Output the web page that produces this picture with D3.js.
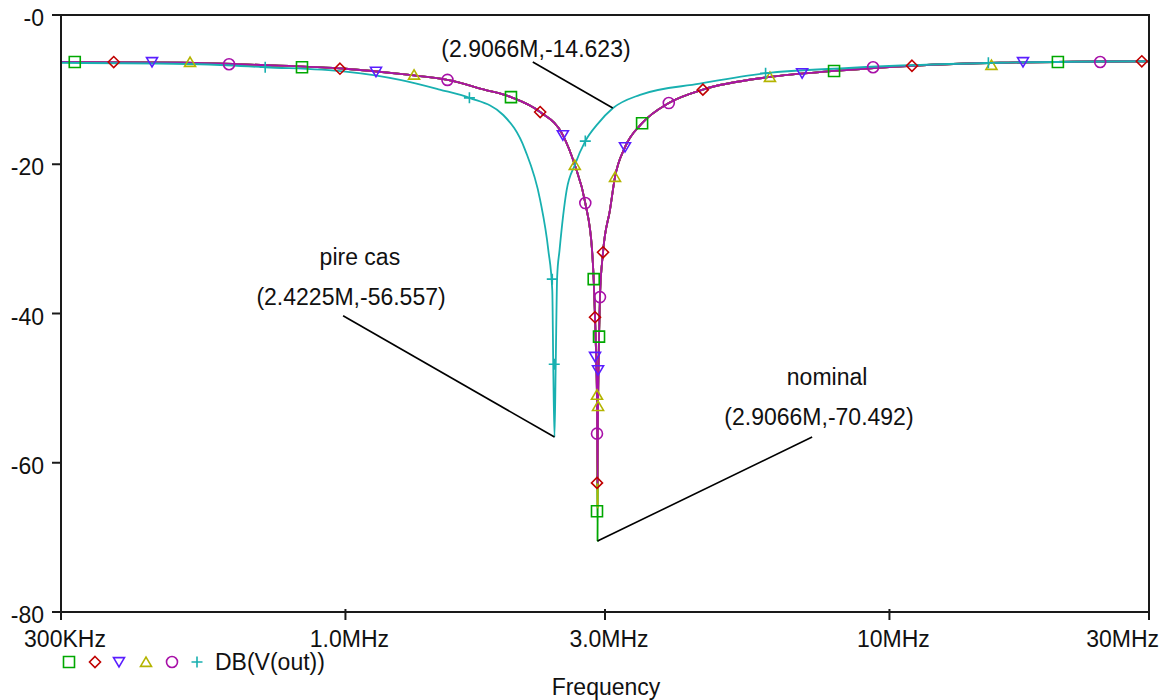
<!DOCTYPE html>
<html>
<head>
<meta charset="utf-8">
<script src="https://cdn.jsdelivr.net/npm/d3@7"></script>
<style>
  body { margin: 0; background: #fff; }
  text { font-family: "Liberation Sans", Arial, sans-serif; fill: #111; }
</style>
</head>
<body>
<script>
// axis ticks (frequency in MHz, level in dB)
const xTicks = [0.3, 1, 3, 10, 30];
const xTickLabels = ["300KHz", "1.0MHz", "3.0MHz", "10MHz", "30MHz"];
const yTicks = [0, -20, -40, -60, -80];
const yTickLabels = ["-0", "-20", "-40", "-60", "-80"];

// nominal response: left flank down to the notch, then right flank
const nominalLeft = [
  [0.3, -6.3], [0.5, -6.4], [0.7, -6.7], [1.0, -7.2], [1.3, -8.0], [1.54, -8.7],
  [1.8, -10.0], [2.015, -11.0], [2.28, -13.0], [2.51, -16.1], [2.64, -20.1],
  [2.76, -25.2], [2.84, -31.5], [2.86, -35.5], [2.876, -40.5], [2.89, -45.8], [2.90, -51.6]
];
const nominalRight = [
  [2.913, -52.3], [2.918, -47.6], [2.925, -43.1], [2.937, -37.7], [2.975, -31.8],
  [3.064, -26.1], [3.13, -21.7], [3.265, -17.7], [3.51, -14.5], [3.93, -11.8],
  [4.54, -10.0], [6.03, -8.3], [7.91, -7.5], [11.0, -6.8], [16.0, -6.4], [30.0, -6.2]
];
// notch depth reached by each of the five nominal-like traces
const notchFreq = 2.9066;
const notchDepth = [-70.492, -63.0, -62.0, -66.0, -62.7];

// worst case ("pire cas") trace
const pireCas = [
  [0.3, -6.4], [0.54, -6.6], [0.712, -7.0], [1.0, -7.6], [1.26, -8.7], [1.49, -10.0],
  [1.69, -11.1], [1.95, -13.4], [2.14, -18.1], [2.28, -24.8], [2.36, -31.5],
  [2.40, -36.9], [2.41, -47.0], [2.4225, -56.557], [2.435, -47.0], [2.45, -35.1],
  [2.475, -31.5], [2.55, -23.5], [2.64, -20.1], [2.76, -16.9], [2.9066, -14.623],
  [3.10, -12.5], [3.48, -10.7], [4.48, -9.2], [5.92, -7.8], [8.42, -7.1],
  [16.0, -6.4], [30.0, -6.2]
];

// trace markers
const greenMarks = [[0.318, -6.3], [0.832, -7.0], [2.015, -11.0], [2.86, -35.4], [2.90, -66.5],
  [2.925, -43.1], [3.51, -14.5], [7.91, -7.5], [20.4, -6.3]];
const redMarks = [[0.375, -6.3], [0.977, -7.2], [2.28, -13.0], [2.876, -40.5], [2.90, -62.7],
  [2.975, -31.8], [4.54, -10.0], [11.0, -6.8], [29.1, -6.2]];
const blueMarks = [[0.441, -6.3], [1.138, -7.6], [2.51, -16.1], [2.876, -45.8], [2.913, -47.6],
  [3.265, -17.7], [6.91, -7.8], [17.6, -6.3]];
const yellowMarks = [[0.518, -6.3], [1.337, -8.0], [2.64, -20.1], [2.90, -50.9], [2.913, -52.4],
  [3.13, -21.7], [6.03, -8.3], [15.4, -6.7]];
const magentaMarks = [[0.611, -6.6], [1.54, -8.7], [2.76, -25.2], [2.937, -37.8], [2.90, -56.1],
  [3.93, -11.8], [9.33, -7.0], [24.4, -6.3]];
const cyanMarks = [[0.712, -7.0], [1.69, -11.1], [2.40, -35.4], [2.42, -46.8], [2.76, -16.9],
  [5.92, -7.8], [15.2, -6.4]];

const traceColors = ["#00a800", "#c00000", "#5a1eff", "#b4b400", "#a810a8", "#18b0b0"];
const traceSymbols = ["square", "diamond", "down", "up", "circle", "plus"];

// cursor annotations
const annotLabels = [
  { title: "", value: "(2.9066M,-14.623)", at: [2.24, -5.63], from: [2.21, -6.3], to: [3.10, -12.46] },
  { title: "pire cas", titleAt: [1.063, -33.5], value: "(2.4225M,-56.557)", at: [1.024, -38.86], from: [0.99, -40.3], to: [2.4225, -56.557] },
  { title: "nominal", titleAt: [7.68, -49.6], value: "(2.9066M,-70.492)", at: [7.42, -54.9], from: [7.21, -56.55], to: [2.9066, -70.492] }
];

const W = 1170, H = 700;
const margin = { left: 61, right: 21, top: 15, bottom: 88 };
const fs = 23;

const svg = d3.select("body").append("svg")
  .attr("width", W).attr("height", H);

const x = d3.scaleLog().domain([0.3, 30]).range([margin.left, W - margin.right]);
const y = d3.scaleLinear().domain([-80, 0]).range([H - margin.bottom, margin.top]);

const line = d3.line()
  .x(d => x(d[0]))
  .y(d => y(d[1]))
  .curve(d3.curveMonotoneX);

// traces
const traces = notchDepth.map(dep => nominalLeft.concat([[notchFreq, dep]], nominalRight));
traces.push(pireCas);
const marks = [greenMarks, redMarks, blueMarks, yellowMarks, magentaMarks, cyanMarks];

function symbolPath(kind, s) {
  const h = s / 2;
  if (kind === "square") return `M${-h},${-h}H${h}V${h}H${-h}Z`;
  if (kind === "diamond") return `M0,${-h}L${h},0L0,${h}L${-h},0Z`;
  if (kind === "down") return `M${-h},${-h * 0.8}L${h},${-h * 0.8}L0,${h * 0.9}Z`;
  if (kind === "up") return `M${-h},${h * 0.8}L${h},${h * 0.8}L0,${-h * 0.9}Z`;
  if (kind === "circle") return `M${h},0A${h},${h} 0 1,1 ${-h},0A${h},${h} 0 1,1 ${h},0Z`;
  return `M${-h},0H${h}M0,${-h}V${h}`;
}

const gTraces = svg.append("g");
traces.forEach((t, i) => {
  gTraces.append("path")
    .attr("d", line(t))
    .attr("fill", "none")
    .attr("stroke", traceColors[i])
    .attr("stroke-width", 1.8);
});
marks.forEach((m, i) => {
  gTraces.append("g").selectAll("path")
    .data(m).join("path")
    .attr("transform", d => `translate(${x(d[0])},${y(d[1])})`)
    .attr("d", symbolPath(traceSymbols[i], 11))
    .attr("fill", "none")
    .attr("stroke", traceColors[i])
    .attr("stroke-width", 1.6);
});

// frame and axes
const axisColor = "#1a1a1a";
const x0 = x(0.3), x1 = x(30), y0 = y(-80), y1 = y(0);
svg.append("path")
  .attr("d", `M${x0 - 9},${y1}H${x1}V${y0 + 8}M${x0},${y1}V${y0 + 8}M${x0 - 9},${y0}H${x1}`)
  .attr("fill", "none").attr("stroke", axisColor).attr("stroke-width", 2);

svg.append("g").selectAll("line")
  .data(yTicks).join("line")
  .attr("x1", x0 - 9).attr("x2", x0)
  .attr("y1", d => y(d)).attr("y2", d => y(d))
  .attr("stroke", axisColor).attr("stroke-width", 2);

svg.append("g").selectAll("line")
  .data(xTicks.slice(1, -1)).join("line")
  .attr("x1", d => x(d)).attr("x2", d => x(d))
  .attr("y1", y0 - 3).attr("y2", y0 + 8)
  .attr("stroke", axisColor).attr("stroke-width", 2);

svg.append("g").selectAll("text")
  .data(yTicks).join("text")
  .attr("x", x0 - 17)
  .attr("y", d => y(d) + 11)
  .attr("text-anchor", "end")
  .attr("font-size", fs)
  .text((d, i) => yTickLabels[i]);

svg.append("g").selectAll("text")
  .data(xTicks).join("text")
  .attr("x", (d, i) => i === xTicks.length - 1 ? x(d) + 10 : x(d) + 4)
  .attr("y", y0 + 35)
  .attr("text-anchor", (d, i) => i === xTicks.length - 1 ? "end" : "middle")
  .attr("font-size", fs)
  .text((d, i) => xTickLabels[i]);

svg.append("text")
  .attr("x", (x0 + x1) / 2 + 1)
  .attr("y", 695)
  .attr("text-anchor", "middle")
  .attr("font-size", fs)
  .text("Frequency");

// legend
const legend = svg.append("g").attr("transform", "translate(69,662)");
traceSymbols.forEach((s, i) => {
  legend.append("path")
    .attr("transform", `translate(${[0, 26, 50, 77, 103, 128][i]},0)`)
    .attr("d", symbolPath(s, 11))
    .attr("fill", "none")
    .attr("stroke", traceColors[i])
    .attr("stroke-width", 1.6);
});
legend.append("text")
  .attr("x", 146).attr("y", 8)
  .attr("font-size", fs)
  .text("DB(V(out))");

// annotations
const gAnn = svg.append("g");
annotLabels.forEach(a => {
  gAnn.append("line")
    .attr("x1", x(a.from[0])).attr("y1", y(a.from[1]))
    .attr("x2", x(a.to[0])).attr("y2", y(a.to[1]))
    .attr("stroke", "#000").attr("stroke-width", 1.6);
  gAnn.append("text")
    .attr("x", x(a.at[0])).attr("y", y(a.at[1]))
    .attr("text-anchor", "middle")
    .attr("font-size", fs)
    .text(a.value);
  if (a.title) {
    gAnn.append("text")
      .attr("x", x(a.titleAt[0])).attr("y", y(a.titleAt[1]))
      .attr("text-anchor", "middle")
      .attr("font-size", fs)
      .text(a.title);
  }
});
</script>
</body>
</html>
